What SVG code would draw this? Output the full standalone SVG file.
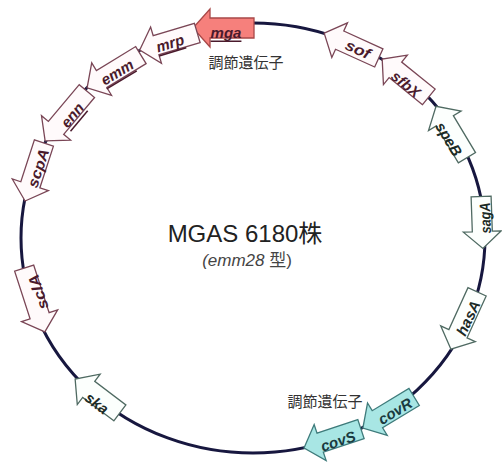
<svg xmlns="http://www.w3.org/2000/svg" width="502" height="465" viewBox="0 0 502 465">
<defs>
<style>
.circ{fill:none;stroke:#17173f;stroke-width:3}
.pk path{fill:#fffafb;stroke:#7a4656;stroke-width:1.3}
.gr path{fill:#fcfffd;stroke:#4f6a62;stroke-width:1.3}
.rd path{fill:#f6807c;stroke:#a84848;stroke-width:1.3}
.cy path{fill:#a8e6e4;stroke:#3f7b7b;stroke-width:1.3}
.lbl{font-family:"Liberation Sans",Arial,sans-serif;font-size:15px;font-style:italic;font-weight:bold;text-anchor:middle;dominant-baseline:central}
.pk text,.rd text{fill:#4a1a2c}
.gr text{fill:#1c2b27}
.cy text{fill:#1a3a40}
.ul{text-decoration:underline}
.jp{font-family:"Noto Sans CJK JP",sans-serif;font-size:15px;fill:#333;text-anchor:middle}
.title{font-family:"Liberation Sans","Noto Sans CJK JP",sans-serif;font-size:24px;fill:#222;text-anchor:middle}
.sub{font-family:"Liberation Sans","Noto Sans CJK JP",sans-serif;font-size:17px;fill:#444;text-anchor:middle}
</style>
</defs>
<g id="connectors">
<ellipse class="circ" cx="253" cy="238" rx="232" ry="215"/>
</g>
<g id="mga" class="rd">
<path transform="translate(223.5,28) rotate(180)" d="M-30.5,-10H13.5V-19L30.5,0L13.5,19V10H-30.5Z"/>
<text class="lbl ul" x="226" y="32">mga</text>
</g>
<g id="mrp" class="pk">
<path transform="translate(168.5,41.5) rotate(163.4)" d="M-30,-10H13V-19L30,0L13,19V10H-30Z"/>
<text class="lbl ul" transform="translate(170,43) rotate(-17)">mrp</text>
</g>
<g id="emm" class="pk">
<path transform="translate(114,71.5) rotate(148.6)" d="M-31.5,-10H14.5V-19L31.5,0L14.5,19V10H-31.5Z"/>
<text class="lbl ul" transform="translate(117,72) rotate(-31)">emm</text>
</g>
<g id="enn" class="pk">
<path transform="translate(66,116) rotate(130)" d="M-32.5,-10H15.5V-19L32.5,0L15.5,19V10H-32.5Z"/>
<text class="lbl ul" transform="translate(72,115) rotate(-50)">enn</text>
</g>
<g id="scpA" class="pk">
<path transform="translate(34.5,172) rotate(108)" d="M-30.5,-10H13.5V-19L30.5,0L13.5,19V10H-30.5Z"/>
<text class="lbl" transform="translate(38,168) rotate(-72)" textLength="40" lengthAdjust="spacingAndGlyphs">scpA</text>
</g>
<g id="sclA" class="pk">
<path transform="translate(34.5,300) rotate(72)" d="M-33.5,-10H16.5V-19L33.5,0L16.5,19V10H-33.5Z"/>
<text class="lbl" transform="translate(38,292) rotate(-108)" textLength="36" lengthAdjust="spacingAndGlyphs">sclA</text>
</g>
<g id="ska" class="gr">
<path transform="translate(97.5,396) rotate(217)" d="M-28,-10H11V-19L28,0L11,19V10H-28Z"/>
<text class="lbl" transform="translate(97,403) rotate(37)">ska</text>
</g>
<g id="covS" class="cy">
<path transform="translate(332.5,438.5) rotate(161.6)" d="M-30,-10H13V-19L30,0L13,19V10H-30Z"/>
<text class="lbl" transform="translate(338,441) rotate(-18)">covS</text>
</g>
<g id="covR" class="cy">
<path transform="translate(388.5,412.5) rotate(148.7)" d="M-30,-10H13V-19L30,0L13,19V10H-30Z"/>
<text class="lbl" transform="translate(395,411) rotate(-31)">covR</text>
</g>
<g id="hasA" class="gr">
<path transform="translate(464,320.5) rotate(114.5)" d="M-31.5,-10H14.5V-19L31.5,0L14.5,19V10H-31.5Z"/>
<text class="lbl" transform="translate(468,318) rotate(-65)">hasA</text>
</g>
<g id="sagA" class="gr">
<path transform="translate(482,222.5) rotate(88)" d="M-26,-10H9V-19L26,0L9,19V10H-26Z"/>
<text class="lbl" transform="translate(485,218) rotate(-92)" textLength="31" lengthAdjust="spacingAndGlyphs">sagA</text>
</g>
<g id="speB" class="gr">
<path transform="translate(451.5,132) rotate(239)" d="M-30,-10H13V-19L30,0L13,19V10H-30Z"/>
<text class="lbl" transform="translate(449,139) rotate(59)">speB</text>
</g>
<g id="sfbX" class="pk">
<path transform="translate(405.5,78) rotate(219)" d="M-30,-10H13V-19L30,0L13,19V10H-30Z"/>
<text class="lbl" transform="translate(406,84) rotate(39)">sfbX</text>
</g>
<g id="sof" class="pk">
<path transform="translate(351.5,45.5) rotate(204.4)" d="M-30,-10H13V-19L30,0L13,19V10H-30Z"/>
<text class="lbl" transform="translate(358,49) rotate(24)" textLength="26" lengthAdjust="spacingAndGlyphs">sof</text>
</g>
<g id="labels">
<text class="jp" x="246" y="68">調節遺伝子</text>
<text class="jp" x="325" y="407">調節遺伝子</text>
<text class="title" x="245" y="242">MGAS 6180株</text>
<text class="sub" x="247" y="266"><tspan font-style="italic">(emm28</tspan> 型)</text>
</g>
</svg>
